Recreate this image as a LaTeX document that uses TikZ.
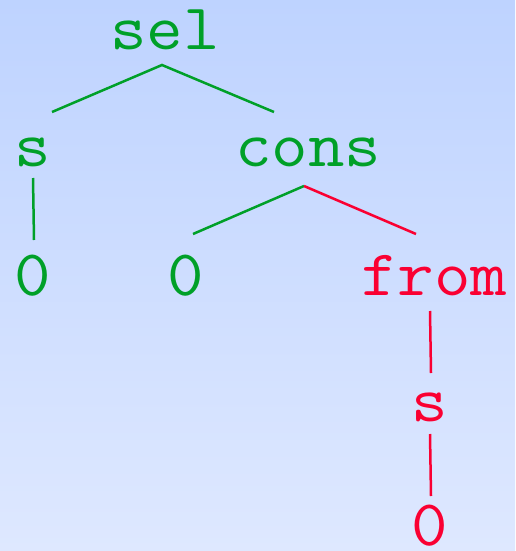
\documentclass[tikz,border=0pt]{standalone}
\usepackage{fontspec}
\setmonofont{Latin Modern Mono}[FakeStretch=1.09]
\definecolor{bgtop}{RGB}{190,211,255}
\definecolor{bgbot}{RGB}{222,232,255}
\definecolor{termgreen}{RGB}{0,160,40}
\definecolor{termred}{RGB}{250,0,50}
\begin{document}
\begin{tikzpicture}[x=1pt,y=-1pt,
  term/.style={anchor=base,inner sep=0pt,font=\ttfamily\fontsize{65}{65}\selectfont},
  gterm/.style={term,text=termgreen},
  rterm/.style={term,text=termred},
  gedge/.style={draw=termgreen,line width=2.5pt},
  redge/.style={draw=termred,line width=2.5pt}]
  % background
  \shade[top color=bgtop,bottom color=bgbot] (0,0) rectangle (515,551);
  \useasboundingbox (0,0) rectangle (515,551);

  % terms
  \node[gterm] (sel)   at (165,50)  {sel};
  \node[gterm] (s1)    at (33,166)  {s};
  \node[gterm] (cons)  at (308,166) {cons};
  \node[gterm] (z1)    at (33,295)  {0};
  \node[gterm] (z2)    at (186,295) {0};
  \node[rterm] (from)  at (434,295) {from};
  \node[rterm] (s2)    at (430,421) {s};
  \node[rterm] (z3)    at (430,545) {0};

  % attachment points
  \coordinate (sel-f)  at (162,65);
  \coordinate (s1-t)   at (52,112);
  \coordinate (cons-t) at (274,112);
  \coordinate (s1-b)   at (33,178);
  \coordinate (z1-t)   at (34,240);
  \coordinate (cons-f) at (304,186);
  \coordinate (z2-t)   at (193,234);
  \coordinate (from-t) at (416,234);
  \coordinate (from-b) at (430,311);
  \coordinate (s2-t)   at (431,373);
  \coordinate (s2-b)   at (430,434);
  \coordinate (z3-t)   at (431,496);

  % edges
  \draw[gedge] (s1-t) -- (sel-f) -- (cons-t);
  \draw[gedge] (s1-b) -- (z1-t);
  \draw[gedge] (z2-t) -- (cons-f);
  \draw[redge] (cons-f) -- (from-t);
  \draw[redge] (from-b) -- (s2-t);
  \draw[redge] (s2-b) -- (z3-t);
\end{tikzpicture}
\end{document}
